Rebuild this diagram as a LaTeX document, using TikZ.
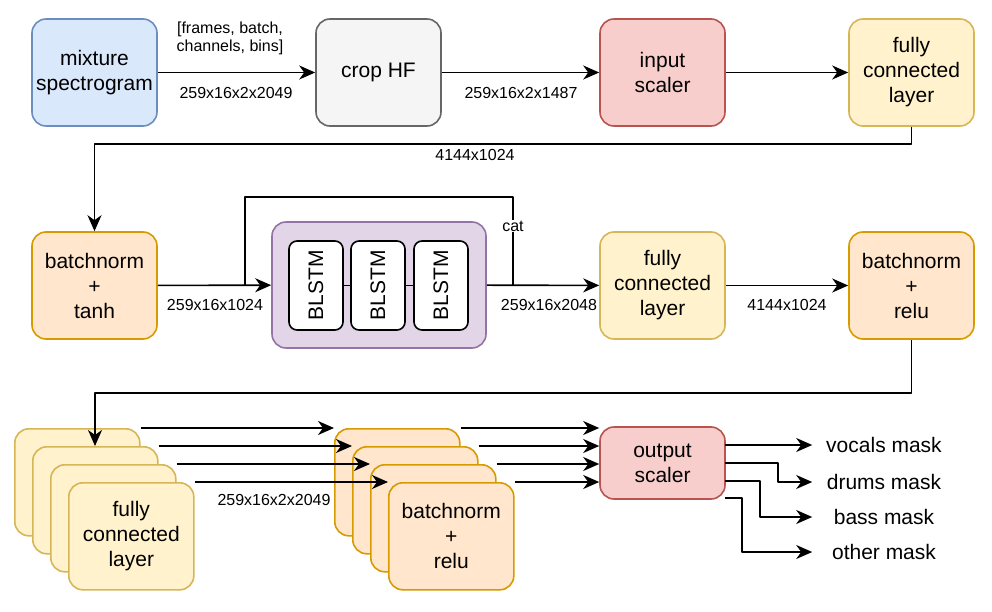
\documentclass[tikz,border=0pt]{standalone}
\usepackage{fontspec}
\setmainfont{Liberation Sans}
\usetikzlibrary{arrows.meta}
\definecolor{blueF}{HTML}{DAE8FC}\definecolor{blueD}{HTML}{6C8EBF}
\definecolor{grayF}{HTML}{F5F5F5}\definecolor{grayD}{HTML}{666666}
\definecolor{redF}{HTML}{F8CECC}\definecolor{redD}{HTML}{B85450}
\definecolor{yelF}{HTML}{FFF2CC}\definecolor{yelD}{HTML}{D6B656}
\definecolor{orgF}{HTML}{FFE6CC}\definecolor{orgD}{HTML}{D79B00}
\definecolor{purF}{HTML}{E1D5E7}\definecolor{purD}{HTML}{9673A6}
\tikzset{
	blk/.style={draw,rounded corners=14pt,line width=1.6pt,minimum width=125pt,minimum height=107pt,inner sep=0pt,align=center,font=\fontsize{21}{25}\selectfont},
	bluebox/.style={blk,fill=blueF,draw=blueD},
	graybox/.style={blk,fill=grayF,draw=grayD},
	redbox/.style={blk,fill=redF,draw=redD},
	yelbox/.style={blk,fill=yelF,draw=yelD},
	orgbox/.style={blk,fill=orgF,draw=orgD},
	dim/.style={inner sep=0pt,align=center,font=\fontsize{16}{18}\selectfont},
	mask/.style={inner sep=0pt,minimum width=142pt,font=\fontsize{21}{25}\selectfont}
}
\begin{document}
\begin{tikzpicture}[x=1pt,y=-1pt,line join=round,>={Stealth[length=16pt,width=14pt,inset=5pt]},line width=1.6pt]
		\useasboundingbox (0,0) rectangle (992,612);
		\node[bluebox] (mix) at (94.5,72.5) {mixture\\spectrogram};
		\node[graybox] (crop) at (378.5,72.5) {crop HF};
		\node[redbox] (insc) at (662.5,72.5) {input\\scaler};
		\node[yelbox] (fca) at (911.5,72.5) {fully\\connected\\layer};
		\node[orgbox] (bnt) at (94.5,285.5) {batchnorm\\+\\tanh};
		\node[blk,fill=purF,draw=purD,minimum width=214pt,minimum height=126pt] (lstm) at (379,285) {};
		\foreach \x/\n in {316/1,378/2,441/3}
			\node[draw,fill=white,rounded corners=8pt,line width=1.6pt,minimum width=54pt,minimum height=89pt,inner sep=0pt] (bl\n) at (\x,285.5) {\rotatebox{90}{\fontsize{21}{25}\selectfont BLSTM}};
		\node[yelbox] (fcb) at (662.5,285.5) {fully\\connected\\layer};
		\node[orgbox] (bnr) at (911.5,285.5) {batchnorm\\+\\relu};
		\foreach \i in {0,1,2}{
			\node[yelbox,anchor=north west] (fcs\i) at (14+18*\i,428+18*\i) {};
			\node[orgbox,anchor=north west] (bns\i) at (334+18*\i,428+18*\i) {};
		}
		\node[yelbox,anchor=north west] (fcs3) at (68,482) {fully\\connected\\layer};
		\node[orgbox,anchor=north west] (bns3) at (388,482) {batchnorm\\+\\relu};
		\node[redbox,minimum height=72pt] (outsc) at (662.5,463) {output\\scaler};
		\node[mask] (voc) at (884,445) {vocals mask};
		\node[mask] (drm) at (884,482) {drums mask};
		\node[mask] (bas) at (884,517) {bass mask};
		\node[mask] (oth) at (884,552) {other mask};
		\path (245,285.5)coordinate(split) (513,285.5)coordinate(join) (95,446)coordinate(fcin)
			(725,445)coordinate(o1) (725,463)coordinate(o2) (725,481)coordinate(o3) (725,498)coordinate(o4);
		\draw[->] (mix)--(crop);
		\draw[->] (crop)--(insc);
		\draw[->] (insc)--(fca);
		\draw[->] (fca.south)--++(0,17)-|(bnt.north);
		\draw[->] (bnt)--(lstm);
		\draw (split)|-(513,197)--(join);
		\draw[->] (lstm)--(fcb);
		\draw[->] (fcb)--(bnr);
		\draw[line width=1.2pt] (bl1)--(bl2) (bl2)--(bl3);
		\draw[->] (bnr.south)--++(0,53)-|(fcin);
		\foreach \i in {0,...,3}{
			\draw[->] (fcs\i.north east)--(bns\i.north west);
			\draw[->] (bns\i.north east)--(outsc.west|-bns\i.north east);
		}
		\draw[->] (o1)--(voc.west);
		\draw[->] (o2)--++(53,0)|-(drm.west);
		\draw[->] (o3)--++(35,0)|-(bas.west);
		\draw[->] (o4)--++(17,0)|-(oth.west);
		\node[dim] at (230,38) {[frames, batch,\\channels, bins]};
		\node[dim] at (236,93) {259x16x2x2049};
		\node[dim] at (521,93) {259x16x2x1487};
		\node[dim] at (475,155) {4144x1024};
		\node[dim,fill=white,inner sep=1pt] at (513,226) {cat};
		\node[dim] at (215,305) {259x16x1024};
		\node[dim] at (549,305) {259x16x2048};
		\node[dim] at (787,305) {4144x1024};
		\node[dim] at (274,500) {259x16x2x2049};
\end{tikzpicture}
\end{document}
